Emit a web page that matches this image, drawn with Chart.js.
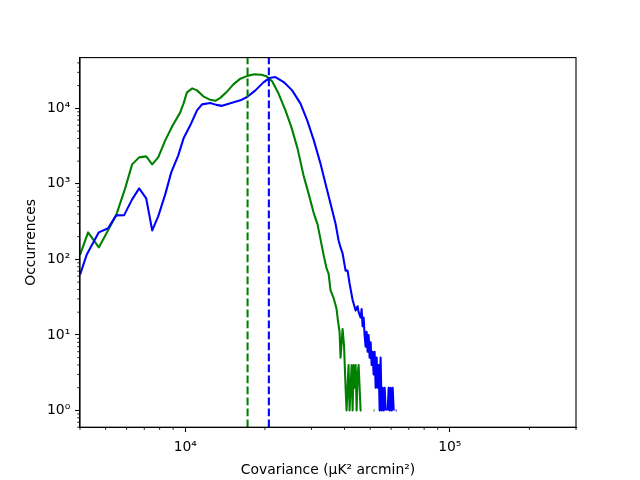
<!DOCTYPE html>
<html>
<head>
<meta charset="utf-8">
<script src="https://cdn.jsdelivr.net/npm/chart.js@4/dist/chart.umd.min.js"></script>
<style>html,body{margin:0;padding:0;background:#fff;}canvas{display:block;}</style>
</head>
<body>
<canvas id="c" width="640" height="480"></canvas>
<script>
// ---- data ----
const greenX = [4002, 4292, 4712, 5478, 5925, 6297, 6694, 7117, 7499, 7901, 8400, 8928, 9574, 9853, 10149, 10630, 11075, 11701, 12436, 12991, 13571, 14298, 15199, 16157, 17175, 18253, 19404, 20270, 21303, 22505, 23917, 25202, 26563, 27990, 29239, 30540, 31623, 32460, 33416, 34212, 34814, 35420, 36360, 37330, 37810, 38310, 38640, 39330, 39846, 40370, 40720, 41076, 41430, 41800, 42170, 42535, 42920, 43290, 43670, 44050, 44440, 44817, 45220, 45610, 46008, 46420, 46830, 51530, 51980];
const greenY = [115, 228, 144, 383, 872, 1812, 2243, 2312, 1812, 2243, 3770, 5780, 8850, 11650, 16290, 18400, 17300, 14420, 12970, 12570, 13770, 16290, 20790, 24730, 26930, 28200, 27790, 26540, 22790, 15810, 9410, 5600, 2951, 1297, 748, 420, 291, 184, 110, 76, 65, 39, 31, 22, 15, 11, 5, 12, 7, 2, 1, 2, 4, 1, 2, 4, 1, 4, 2, 4, 1, 3, 4, 2, 1, 1, null, 1, 1];

const blueX = [4002, 4243, 4712, 5108, 5478, 5873, 6297, 6694, 7117, 7499, 7901, 8400, 8851, 9408, 9853, 10445, 11075, 11569, 12436, 13107, 13773, 14805, 16157, 17130, 18413, 19746, 20805, 21926, 23565, 25356, 27272, 28909, 30619, 32460, 33900, 35420, 37000, 37970, 38640, 39330, 40370, 41076, 41800, 42920, 44050, 44817, 45220, 46008, 46420, 46830, 47226, 47640, 48058, 48480, 48904, 49330, 49766, 50210, 50643, 51080, 51530, 51980, 52448, 52900, 53370, 53830, 54310, 54770, 55250, 55749, 56230, 56731, 57220, 57722, 58236, 58745, 59259, 59770, 60302, 60830, 61364, 61896, 62450, 62985];
const blueY = [63, 116, 228, 258, 383, 386, 624, 872, 643, 242, 371, 726, 1420, 2384, 4010, 5960, 9410, 11300, 11750, 11120, 10790, 11650, 12770, 14120, 17300, 22090, 25190, 25990, 22290, 17300, 11540, 6935, 3770, 1852, 1006, 547, 297, 179, 144, 120, 71, 71, 48, 29, 21, 24, 20, 17, 22, 13, 17, 10, 7, 11, 6, 10, 5, 8, 4, 6, 3, 6, 2, 5, 2, 4, 1, 5, 1, 2, 1, 2, 1, null, 1, 2, 1, 2, 1, 2, 1, null, 1, 1];

const greenMean = 17200;
const blueMean = 20700;

const xRange = [4000, 300000];
const yRange = [0.6, 47000];
const xTitle = 'Covariance (μK² arcmin²)';
const yTitle = 'Occurrences';

// ---- helpers ----
const FONT = "'DejaVu Sans'";
const SUP = {'0':'⁰','1':'¹','2':'²','3':'³','4':'⁴','5':'⁵','6':'⁶','7':'⁷','8':'⁸','9':'⁹','-':'⁻'};
function isMajor(v){ const l = Math.log10(v); return Math.abs(l - Math.round(l)) < 1e-9; }
function powLabel(v){ const e = Math.round(Math.log10(v)); return '10' + String(e).split('').map(c => SUP[c]).join(''); }
function logTicks(min, max){
  const t = [];
  for (let e = Math.floor(Math.log10(min)); e <= Math.ceil(Math.log10(max)); e++){
    for (let m = 1; m < 10; m++){
      const v = m * Math.pow(10, e);
      if (v >= min * 0.9999 && v <= max * 1.0001) t.push({value: v, major: m === 1});
    }
  }
  return t;
}
function pairs(xs, ys){ return xs.map((x, i) => ({x: x, y: ys[i]})); }
function vline(x){ return [{x: x, y: yRange[0]}, {x: x, y: yRange[1]}]; }

const TL = 4.86;       // major tick length
const TLm = 2.78;      // minor tick length

const framePlugin = {
  id: 'frame',
  afterDatasetsDraw(chart){
    const {ctx, chartArea: a} = chart;
    ctx.save();
    ctx.strokeStyle = '#000';
    ctx.lineWidth = 0.83;
    const xs = chart.scales.x, ys = chart.scales.y;
    xs.ticks.forEach(t => {
      if (isMajor(t.value)) return;
      const p = xs.getPixelForValue(t.value);
      ctx.beginPath(); ctx.moveTo(p, a.bottom); ctx.lineTo(p, a.bottom + TLm); ctx.stroke();
    });
    ys.ticks.forEach(t => {
      if (isMajor(t.value)) return;
      const p = ys.getPixelForValue(t.value);
      ctx.beginPath(); ctx.moveTo(a.left, p); ctx.lineTo(a.left - TLm, p); ctx.stroke();
    });
    ctx.lineWidth = 1.1;
    ctx.strokeRect(a.left, a.top, a.right - a.left, a.bottom - a.top);
    ctx.restore();
  }
};

const lineStyle = {showLine: true, pointRadius: 0, borderWidth: 2.08, spanGaps: false, borderJoinStyle: 'round', fill: false};

new Chart(document.getElementById('c'), {
  type: 'scatter',
  data: {
    datasets: [
      Object.assign({data: vline(greenMean), borderColor: '#008000', borderDash: [7.7, 3.3]}, lineStyle),
      Object.assign({data: vline(blueMean), borderColor: '#0000ff', borderDash: [7.7, 3.3]}, lineStyle),
      Object.assign({data: pairs(blueX, blueY), borderColor: '#0000ff'}, lineStyle),
      Object.assign({data: pairs(greenX, greenY), borderColor: '#008000'}, lineStyle)
    ]
  },
  options: {
    responsive: false,
    animation: false,
    devicePixelRatio: 1,
    layout: {padding: {top: 57.6, right: 64, left: 0, bottom: 0}},
    plugins: {legend: {display: false}, tooltip: {enabled: false}},
    scales: {
      x: {
        type: 'logarithmic',
        min: xRange[0], max: xRange[1],
        afterBuildTicks: s => { s.ticks = logTicks(xRange[0], xRange[1]); },
        afterFit: s => { s.height = 480 - 427.2; },
        grid: {drawOnChartArea: false, drawTicks: true, tickLength: TL, tickWidth: 1.1,
               tickColor: c => (c.tick && isMajor(c.tick.value)) ? '#000' : 'rgba(0,0,0,0)'},
        border: {display: true, color: '#000', width: 1.1},
        ticks: {autoSkip: false, maxRotation: 0, minRotation: 0, color: '#000',
                font: {family: FONT, size: 13.9}, padding: 6.5,
                callback: v => isMajor(v) ? powLabel(v) : ''},
        title: {display: true, text: xTitle, color: '#000', font: {family: FONT, size: 13.9},
                padding: {top: 0, bottom: 1.7}}
      },
      y: {
        type: 'logarithmic',
        min: yRange[0], max: yRange[1],
        afterBuildTicks: s => { s.ticks = logTicks(yRange[0], yRange[1]); },
        afterFit: s => { s.width = 80; },
        grid: {drawOnChartArea: false, drawTicks: true, tickLength: TL, tickWidth: 1.1,
               tickColor: c => (c.tick && isMajor(c.tick.value)) ? '#000' : 'rgba(0,0,0,0)'},
        border: {display: true, color: '#000', width: 1.1},
        ticks: {autoSkip: false, color: '#000', font: {family: FONT, size: 13.9}, padding: 4.86,
                callback: v => isMajor(v) ? powLabel(v) : ''},
        title: {display: true, text: yTitle, color: '#000', font: {family: FONT, size: 13.9},
                padding: {top: 23, bottom: 0}}
      }
    }
  },
  plugins: [framePlugin]
});
</script>
</body>
</html>
